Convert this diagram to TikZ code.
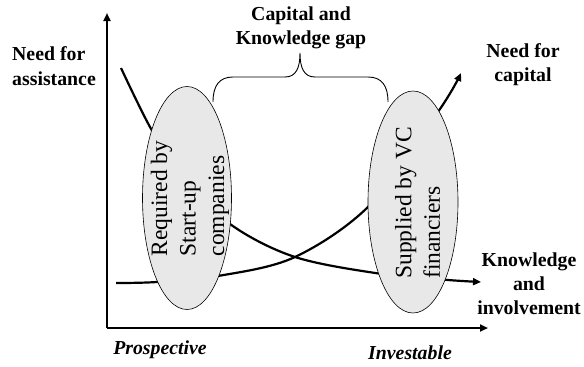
\documentclass[tikz,border=0pt]{standalone}
\usepackage{fontspec}
\setmainfont{Liberation Serif}
\usetikzlibrary{shapes.geometric,arrows.meta}
\definecolor{bubblegray}{HTML}{E8E8E8}
\begin{document}
\begin{tikzpicture}[x=1pt,y=-1pt,
  lbl/.style={font=\fontsize{19.8}{24}\selectfont\bfseries, align=center, inner sep=0},
  lbll/.style={font=\fontsize{19.8}{25}\selectfont\bfseries, align=left, inner sep=0},
  ital/.style={font=\fontsize{19.8}{24}\selectfont\bfseries\itshape, inner sep=0},
  axis/.style={line width=2.6pt, -{Triangle[length=8pt,width=7pt]}},
  crv/.style={line width=2.2pt, -{Triangle[length=8pt,width=7pt]}},
  bubble/.style={ellipse, draw=black, line width=0.6pt, fill=bubblegray, inner sep=0},
  btext/.style={font=\fontsize{23.5}{28.5}\selectfont, rotate=90, align=left, inner sep=0},
  bracestyle/.style={line width=0.9pt}]
\useasboundingbox (0,0) rectangle (584,367);

% axes
\coordinate (O) at (107,328);
\coordinate (ytip) at (107,13);
\coordinate (xtip) at (488,328);
\draw[axis] (ytip |- O) -- (ytip);
\draw[axis] (O) -- (xtip);

% curves
\coordinate (a0) at (121,68);
\coordinate (a1) at (481,282);
\draw[crv] plot[smooth, tension=0.55] coordinates {(a0) (150,127) (180,174) (230,224) (295,257) (382,274) (448,280) (a1)};
\coordinate (b0) at (116,283);
\coordinate (b1) at (461,73);
\draw[crv] plot[smooth, tension=0.55] coordinates {(b0) (157,282) (218,276) (295,257) (371,204) (440,109) (b1)};

% bubbles
\node[bubble, minimum width=89pt, minimum height=223pt] (e1) at (187,198) {};
\node[bubble, minimum width=90pt, minimum height=222pt] (e2) at (413,202) {};
\node[btext] (t1) at (190,198.5) {Required by\\Start-up\\companies};
\node[btext] (t2) at (417.5,203) {Supplied by VC\\financiers};

% brace
\coordinate (bl) at (213,102);
\coordinate (bt) at (300,53);
\coordinate (br) at (388,102);
\draw[bracestyle] (bl) .. controls (213,86) and (219,77) .. (233,77) -- (285,77)
  .. controls (296,77) and (300,68) .. (bt)
  .. controls (300,68) and (304,77) .. (315,77) -- (368,77)
  .. controls (382,77) and (388,86) .. (br);

% labels
\node[lbl] (gap) at (301,28) {Capital and\\Knowledge gap};
\node[lbll, anchor=west] (assist) at (12,66) {Need for\\assistance};
\node[lbl] (cap) at (523,65) {Need for\\capital};
\node[lbl] (know) at (529,284) {Knowledge\\and\\involvement};
\node[ital] (pros) at (160,350) {Prospective};
\node[ital] (inv) at (410,353) {Investable};
\end{tikzpicture}
\end{document}
